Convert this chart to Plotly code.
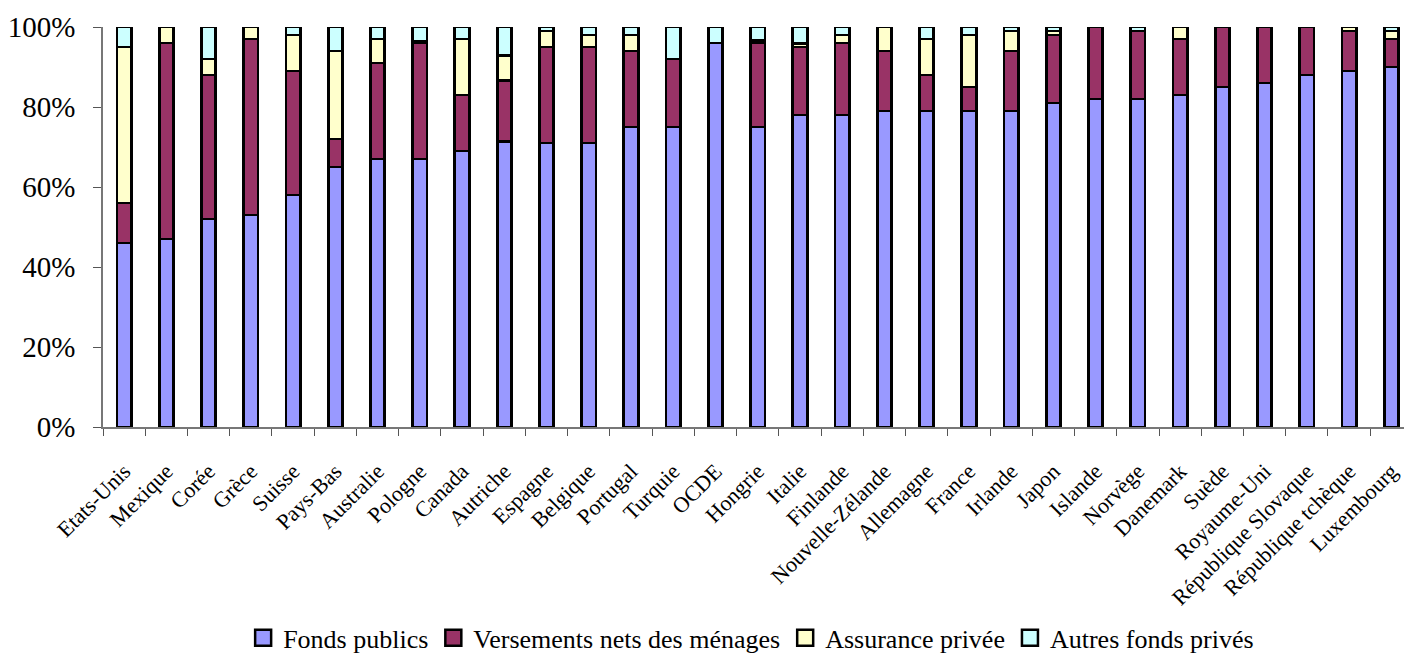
import plotly.graph_objects as go

# Répartition du financement des dépenses de santé par pays (en % du total)
pays = [
    "Etats-Unis", "Mexique", "Corée", "Grèce", "Suisse", "Pays-Bas", "Australie",
    "Pologne", "Canada", "Autriche", "Espagne", "Belgique", "Portugal", "Turquie",
    "OCDE", "Hongrie", "Italie", "Finlande", "Nouvelle-Zélande", "Allemagne",
    "France", "Irlande", "Japon", "Islande", "Norvège", "Danemark", "Suède",
    "Royaume-Uni", "République Slovaque", "République tchèque", "Luxembourg",
]

fonds_publics = [46, 47, 52, 53, 58, 65, 67, 67, 69, 71.3, 71, 71, 75, 75,
                 96, 75, 78, 78, 79, 79, 79, 79, 81, 82, 82, 83, 85, 86, 88, 89, 90]
versements_menages = [10, 49, 36, 44, 31, 7, 24, 29, 14, 15.4, 24, 24, 19, 17,
                      0, 21, 17, 18, 15, 9, 6, 15, 17, 18, 17, 14, 15, 14, 12, 10, 7]
assurance_privee = [39, 4, 4, 3, 9, 22, 6, 0.5, 14, 6.1, 4, 3, 4, 0,
                    0, 0.7, 0.8, 2, 6, 9, 13, 5, 1, 0, 0, 3, 0, 0, 0, 1, 2]
autres_fonds_prives = [5, 0, 8, 0, 2, 6, 3, 3.5, 3, 7.2, 1, 2, 2, 8,
                       4, 3.3, 4.2, 2, 0, 3, 2, 1, 1, 0, 1, 0, 0, 0, 0, 0, 1]

y_ticks = [0, 20, 40, 60, 80, 100]
y_tick_labels = ["0%", "20%", "40%", "60%", "80%", "100%"]

series = [
    ("Fonds publics", fonds_publics, "#9999FF"),
    ("Versements nets des ménages", versements_menages, "#993366"),
    ("Assurance privée", assurance_privee, "#FFFFCC"),
    ("Autres fonds privés", autres_fonds_prives, "#CCFFFF"),
]

SERIF = "Liberation Serif"

fig = go.Figure()
for name, values, color in series:
    fig.add_trace(go.Bar(
        x=pays, y=values, name=name, legendgroup=name, showlegend=False,
        width=0.34,
        marker=dict(color=color, line=dict(color="black", width=2.8)),
    ))
    # legend entry with a larger square swatch
    fig.add_trace(go.Scatter(
        x=[None], y=[None], mode="markers", name=name, legendgroup=name,
        marker=dict(symbol="square", size=18, color=color,
                    line=dict(color="black", width=2.5)),
    ))

fig.update_layout(
    barmode="stack",
    width=1404, height=659,
    margin=dict(l=103.4, r=0, t=27, b=232, autoexpand=False),
    paper_bgcolor="white", plot_bgcolor="white",
    font=dict(family=SERIF, color="black"),
    showlegend=True,
    legend=dict(
        orientation="h", xref="container", yref="container",
        x=0.535, xanchor="center", y=0.032, yanchor="middle",
        font=dict(family=SERIF, size=26, color="black"),
        itemwidth=30, tracegroupgap=0,
    ),
    xaxis=dict(
        type="category", range=[-0.5, 30.3],
        tickangle=-45, tickfont=dict(family=SERIF, size=22, color="black"),
        ticks="outside", ticklen=7, tickcolor="#555", tickson="boundaries",
        showline=True, linecolor="#777", linewidth=1.5,
        showgrid=False, automargin=False, ticklabelstandoff=21,
    ),
    yaxis=dict(
        range=[0, 100], tickvals=y_ticks, ticktext=y_tick_labels,
        tickfont=dict(family=SERIF, size=29, color="black"),
        ticks="outside", ticklen=8, tickcolor="#555",
        showline=True, linecolor="#777", linewidth=1.5,
        showgrid=False, zeroline=False, automargin=False,
        ticklabelstandoff=12,
    ),
)

fig.write_html("out.html")
